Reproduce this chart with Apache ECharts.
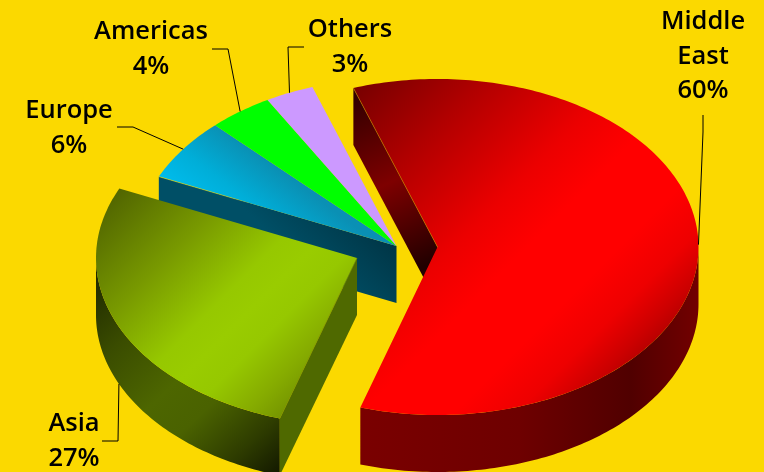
<!DOCTYPE html>
<html>
<head>
<meta charset="utf-8">
<style>html,body{margin:0;padding:0;background:#FBD900}#chart{width:764px;height:472px}</style>
<script src="https://cdn.jsdelivr.net/npm/echarts@6/dist/echarts.min.js"></script>
</head>
<body>
<div id="chart"></div>
<script>
// Regional shares, percent, clockwise from the first slice
const categories = ['Middle East', 'Asia', 'Europe', 'Americas', 'Others'];
const shares = [60, 27, 6, 4, 3];

// Tilted-disc layout
const RX = 261, RY = 168, DEPTH = 57, START_ANGLE = -18.8;
const sliceCentres = {
  'Middle East': [437.5, 247],
  'Asia': [357, 258],
  'Europe': [396.5, 246],
  'Americas': [396.5, 246],
  'Others': [396.5, 246]
};
const labelLayout = {
  'Middle East': { lines: ['Middle', 'East'], at: [703, 22], elbow: [[703, 115], [703, 132]], drop: 0 },
  'Asia': { lines: ['Asia'], at: [74, 424], elbow: [[102, 441], [118, 441]], drop: 57 },
  'Europe': { lines: ['Europe'], at: [69, 111], elbow: [[117, 127], [133, 127]], drop: 0 },
  'Americas': { lines: ['Americas'], at: [151, 32], elbow: [[212, 49], [228, 49]], drop: 0 },
  'Others': { lines: ['Others'], at: [350, 30], elbow: [[304, 47], [288, 47]], drop: 0 }
};

const lin = (x, y, x2, y2, stops) => ({
  type: 'linear', x, y, x2, y2, global: true,
  colorStops: stops.map(([offset, color]) => ({ offset, color }))
});
const sliceStyles = {
  'Middle East': {
    top: lin(354, 89, 640, 375, [[0, '#780000'], [0.225, '#b40000'], [0.45, '#ec0000'], [0.58, '#ff0000'], [0.74, '#ff0000'], [0.85, '#ee0000'], [0.93, '#cc0000'], [1, '#a80000']]),
    rim: lin(362, 0, 698, 0, [[0, '#7a0000'], [0.47, '#6e0000'], [0.8, '#500000'], [1, '#720000']]),
    cut: lin(354, 100, 432, 262, [[0, '#340000'], [0.5, '#7e0000'], [1, '#220000']]),
    edge: '#c08000'
  },
  'Asia': {
    top: lin(119, 190, 322, 393, [[0, '#526600'], [0.3, '#7a9c00'], [0.52, '#96c800'], [0.62, '#99cc00'], [0.72, '#96c800'], [0.86, '#86ac00'], [1, '#6f8c00']]),
    rim: lin(97, 270, 281, 470, [[0, '#1e2800'], [0.25, '#3a4c00'], [0.5, '#4d6600'], [0.65, '#4a6200'], [0.85, '#2e3c00'], [1, '#141a00']]),
    cut: '#4f6900',
    edge: '#7a9000'
  },
  'Europe': {
    top: lin(159, 177, 205, 115, [[0, '#00bcec'], [0.45, '#00aed8'], [1, '#0a90b4']]),
    cut: lin(397, 240, 340, 300, [[0, '#003444'], [1, '#004f66']]),
    edge: lin(159, 177, 250, 205, [[0, 'rgba(255,224,0,0.9)'], [0.8, 'rgba(255,224,0,0.7)'], [1, 'rgba(255,224,0,0)']])
  },
  'Americas': { top: '#00ff00' },
  'Others': { top: '#cc99ff' }
};

// Cumulative sweep of every slice, from its share of the total
const total = shares.reduce((a, b) => a + b, 0);
let cursor = START_ANGLE;
const sweeps = shares.map(v => {
  const from = cursor;
  cursor += v / total * 360;
  return [from, cursor];
});

const rad = d => d * Math.PI / 180;
const onRim = (c, deg, drop = 0) => [c[0] + RX * Math.sin(rad(deg)), c[1] - RY * Math.cos(rad(deg)) + drop];
const arc = (c, a, b, drop = 0) => {
  const n = Math.max(2, Math.ceil(Math.abs(b - a)));
  const pts = [];
  for (let i = 0; i <= n; i++) pts.push(onRim(c, a + (b - a) * i / n, drop));
  return pts;
};

// Back slices first so the nearer ones overlap them
const drawOrder = ['Europe', 'Americas', 'Others', 'Middle East', 'Asia'].map(n => categories.indexOf(n));

function renderSlice(params) {
  const index = drawOrder[params.dataIndex];
  const name = categories[index];
  const [a, b] = sweeps[index];
  const c = sliceCentres[name];
  const s = sliceStyles[name];
  const children = [];

  // Outer wall: only the part of the rim that faces the viewer
  const rimFrom = Math.max(a, 90), rimTo = Math.min(b, 270);
  if (rimTo > rimFrom) {
    children.push({
      type: 'polygon',
      shape: { points: arc(c, rimFrom, rimTo).concat(arc(c, rimTo, rimFrom, DEPTH)) },
      style: { fill: s.rim }
    });
  }
  // Cut wall along the leading radius
  if (s.cut) {
    const p = onRim(c, a);
    children.push({
      type: 'polygon',
      shape: { points: [c, p, [p[0], p[1] + DEPTH], [c[0], c[1] + DEPTH]] },
      style: { fill: s.cut }
    });
  }
  // Top face
  children.push({
    type: 'polygon',
    shape: { points: [c].concat(arc(c, a, b)) },
    style: { fill: s.top }
  });
  if (s.edge) {
    const p = onRim(c, a);
    children.push({
      type: 'line',
      shape: { x1: c[0], y1: c[1], x2: p[0], y2: p[1] },
      style: { stroke: s.edge, lineWidth: 0.8, opacity: 0.8 }
    });
  }
  return { type: 'group', children };
}

function renderLabel(params) {
  const name = categories[params.dataIndex];
  const [a, b] = sweeps[params.dataIndex];
  const layout = labelLayout[name];
  const anchor = onRim(sliceCentres[name], (a + b) / 2, layout.drop);
  const children = [{
    type: 'polyline',
    shape: { points: layout.elbow.concat([anchor]) },
    style: { fill: null, stroke: '#000', lineWidth: 1 }
  }];
  layout.lines.concat([shares[params.dataIndex] + '%']).forEach((line, i) => {
    children.push({
      type: 'text',
      x: layout.at[0],
      y: layout.at[1] + i * 34.5,
      style: {
        text: line, align: 'center', verticalAlign: 'middle',
        fontFamily: '"Open Sans"', fontWeight: 600, fontSize: 25.5, fill: '#000'
      }
    });
  });
  return { type: 'group', children };
}

const chart = echarts.init(document.getElementById('chart'));
chart.setOption({
  backgroundColor: '#FBD900',
  animation: false,
  series: [
    {
      type: 'custom',
      coordinateSystem: 'none',
      name: 'Share',
      silent: true,
      data: drawOrder.map(i => ({ name: categories[i], value: shares[i] })),
      renderItem: renderSlice,
      z: 2
    },
    {
      type: 'custom',
      coordinateSystem: 'none',
      name: 'Labels',
      silent: true,
      data: categories.map((n, i) => ({ name: n, value: shares[i] })),
      renderItem: renderLabel,
      z: 3
    }
  ]
});
</script>
</body>
</html>
